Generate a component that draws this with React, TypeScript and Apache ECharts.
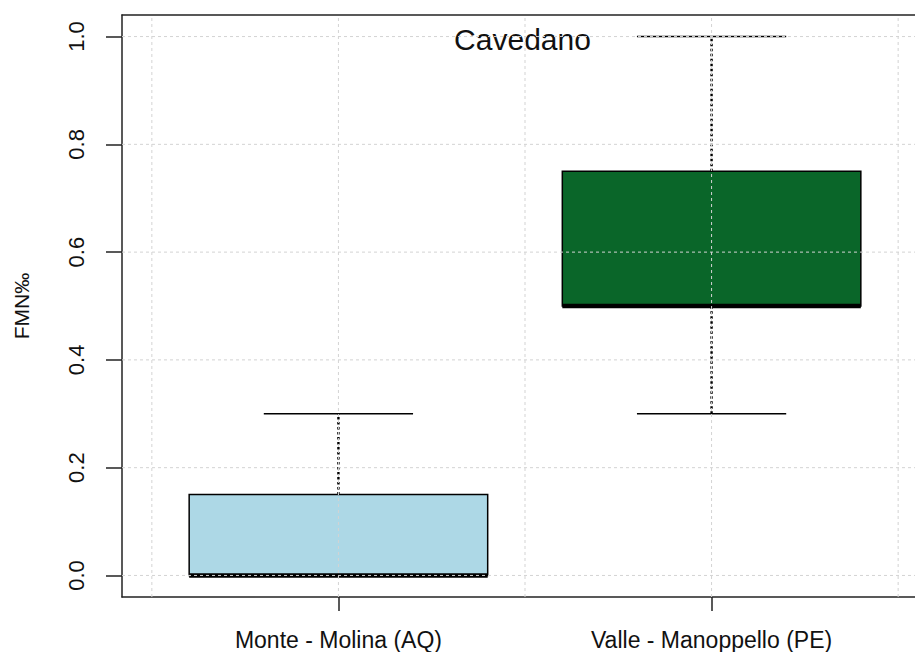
import React, { useEffect, useRef } from "react";
import * as echarts from "echarts";

// ---- data ----
const categories = ["Monte - Molina (AQ)", "Valle - Manoppello (PE)"];
const categoryPositions = [1, 2];
const lowerWhisker = [0, 0.3];
const q1 = [0, 0.5];
const median = [0, 0.5];
const q3 = [0.15, 0.75];
const upperWhisker = [0.3, 1.0];
const boxColors = ["#add8e6", "#0a6629"];
const yTicks = [0, 0.2, 0.4, 0.6, 0.8, 1.0];
const xGridLines = [0.5, 1, 1.5, 2, 2.5];
const chartTitle = "Cavedano";
const yAxisTitle = "FMN‰";

// axis limits (R style 4% expansion)
const X_MIN = 0.42;
const X_MAX = 2.58;
const Y_MIN = -0.04;
const Y_MAX = 1.04;
const BOX_HALF = 0.4;
const CAP_HALF = 0.2;

const FONT = "'Liberation Sans', Arial, Helvetica, sans-serif";

export default function App() {
  const ref = useRef<HTMLDivElement>(null);

  useEffect(() => {
    if (!ref.current) return;
    const chart = echarts.init(ref.current, undefined, { renderer: "svg" });

    const boxData = categoryPositions.map((x, i) => [
      x,
      lowerWhisker[i],
      q1[i],
      median[i],
      q3[i],
      upperWhisker[i],
      i,
    ]);

    const gridData = [
      ...yTicks.map((v) => [0, v]),
      ...xGridLines.map((v) => [1, v]),
    ];

    const option: any = {
      animation: false,
      backgroundColor: "#ffffff",
      textStyle: { fontFamily: FONT },
      grid: {
        left: 122,
        top: 15,
        height: 582,
        width: 806,
        containLabel: false,
        outerBoundsMode: "none",
      },
      graphic: [
        {
          type: "text",
          x: 522.5,
          y: 39.6,
          style: {
            text: chartTitle,
            font: `30px ${FONT}`,
            fill: "#111",
            textAlign: "center",
            textVerticalAlign: "middle",
          },
        },
      ],
      xAxis: [
        {
          type: "value",
          position: "bottom",
          min: X_MIN,
          max: X_MAX,
          axisLine: { show: true, onZero: false, lineStyle: { color: "#222", width: 1.5 } },
          axisTick: {
            show: true,
            customValues: categoryPositions,
            length: 14,
            lineStyle: { color: "#222", width: 1.5 },
          },
          axisLabel: {
            show: true,
            customValues: categoryPositions,
            margin: 31,
            fontSize: 23,
            color: "#111",
            fontFamily: FONT,
            formatter: (v: number) => categories[Math.round(v) - 1] ?? "",
          },
          splitLine: { show: false },
        },
        {
          type: "value",
          position: "top",
          min: X_MIN,
          max: X_MAX,
          axisLine: { show: true, onZero: false, lineStyle: { color: "#222", width: 1.5 } },
          axisTick: { show: false },
          axisLabel: { show: false },
          splitLine: { show: false },
        },
      ],
      yAxis: {
        type: "value",
        min: Y_MIN,
        max: Y_MAX,
        name: yAxisTitle,
        nameLocation: "middle",
        nameGap: 90,
        nameTextStyle: { fontSize: 21, color: "#111", fontFamily: FONT },
        axisLine: { show: true, onZero: false, lineStyle: { color: "#222", width: 1.5 } },
        axisTick: {
          show: true,
          customValues: yTicks,
          length: 16,
          lineStyle: { color: "#222", width: 1.5 },
        },
        axisLabel: {
          show: true,
          customValues: yTicks,
          rotate: 90,
          margin: 35,
          fontSize: 22,
          color: "#111",
          fontFamily: FONT,
          formatter: (v: number) => v.toFixed(1),
        },
        splitLine: { show: false },
      },
      series: [
        {
          type: "custom",
          name: "boxes",
          xAxisIndex: 0,
          z: 2,
          data: boxData,
          renderItem: (params: any, api: any) => {
            const x = api.value(0);
            const lo = api.value(1);
            const b1 = api.value(2);
            const med = api.value(3);
            const b3 = api.value(4);
            const hi = api.value(5);
            const idx = api.value(6);
            const tl = api.coord([x - BOX_HALF, b3]);
            const br = api.coord([x + BOX_HALF, b1]);
            const cLo = api.coord([x, lo]);
            const cB1 = api.coord([x, b1]);
            const cB3 = api.coord([x, b3]);
            const cHi = api.coord([x, hi]);
            const capL = api.coord([x - CAP_HALF, hi]);
            const capR = api.coord([x + CAP_HALF, hi]);
            const capLL = api.coord([x - CAP_HALF, lo]);
            const capLR = api.coord([x + CAP_HALF, lo]);
            const mL = api.coord([x - BOX_HALF, med]);
            const mR = api.coord([x + BOX_HALF, med]);
            const dashed = { stroke: "#000", lineWidth: 2.4, lineDash: [2.5, 2.5] };
            const solid = { stroke: "#000", lineWidth: 1.6 };
            return {
              type: "group",
              children: [
                {
                  type: "line",
                  shape: { x1: cB3[0], y1: cB3[1], x2: cHi[0], y2: cHi[1] },
                  style: dashed,
                },
                {
                  type: "line",
                  shape: { x1: cLo[0], y1: cLo[1], x2: cB1[0], y2: cB1[1] },
                  style: dashed,
                },
                {
                  type: "line",
                  shape: { x1: capL[0], y1: capL[1], x2: capR[0], y2: capR[1] },
                  style: solid,
                },
                {
                  type: "line",
                  shape: { x1: capLL[0], y1: capLL[1], x2: capLR[0], y2: capLR[1] },
                  style: solid,
                },
                {
                  type: "rect",
                  shape: {
                    x: tl[0],
                    y: tl[1],
                    width: br[0] - tl[0],
                    height: br[1] - tl[1],
                  },
                  style: { fill: boxColors[idx], stroke: "#000", lineWidth: 1.5 },
                },
                {
                  type: "line",
                  shape: { x1: mL[0], y1: mL[1], x2: mR[0], y2: mR[1] },
                  style: { stroke: "#000", lineWidth: 4.5 },
                },
              ],
            };
          },
        },
        {
          type: "custom",
          name: "grid",
          xAxisIndex: 0,
          z: 3,
          silent: true,
          data: gridData,
          renderItem: (params: any, api: any) => {
            const kind = api.value(0);
            const v = api.value(1);
            let p1: number[];
            let p2: number[];
            if (kind === 0) {
              p1 = api.coord([X_MIN, v]);
              p2 = api.coord([X_MAX, v]);
            } else {
              p1 = api.coord([v, Y_MIN]);
              p2 = api.coord([v, Y_MAX]);
            }
            return {
              type: "line",
              shape: { x1: p1[0], y1: p1[1], x2: p2[0], y2: p2[1] },
              style: { stroke: "#d3d3d3", lineWidth: 1, lineDash: [3, 3] },
            };
          },
        },
      ],
    };

    chart.setOption(option);
    return () => chart.dispose();
  }, []);

  return (
    <div
      ref={ref}
      style={{ position: "absolute", left: 0, top: 0, width: 915, height: 652 }}
    />
  );
}
